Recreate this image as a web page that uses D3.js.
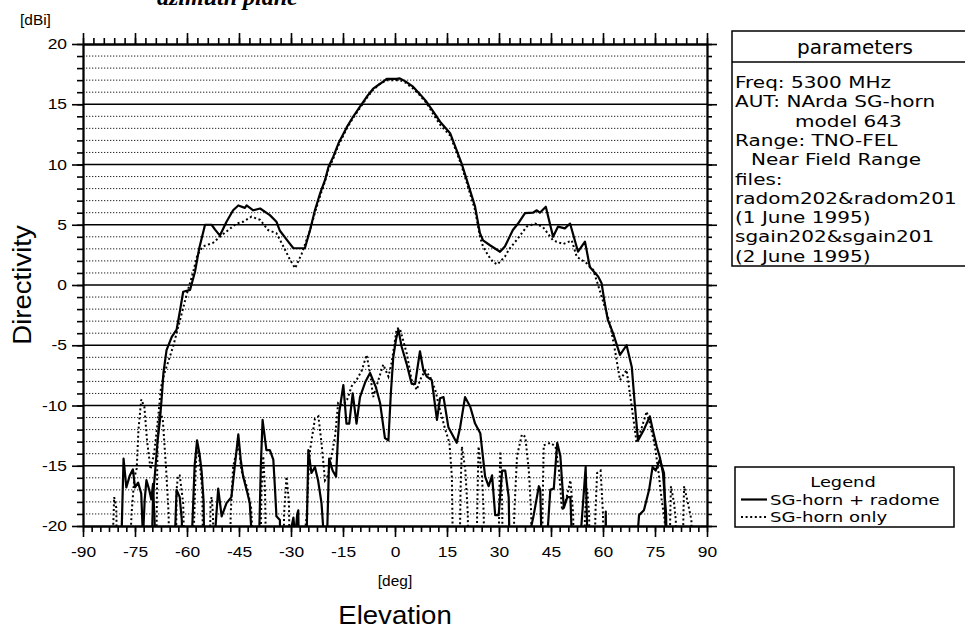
<!DOCTYPE html>
<html><head><meta charset="utf-8">
<script src="https://cdn.jsdelivr.net/npm/d3@7"></script>
<style>
html,body{margin:0;padding:0;background:#fff;}
svg{display:block;font-family:"Liberation Sans",Arial,sans-serif;}
</style></head>
<body><svg id="chart" width="965" height="629"></svg>
<script>
// ---------- data ----------
const xTicks = [-90,-75,-60,-45,-30,-15,0,15,30,45,60,75,90];
const yTicks = [-20,-15,-10,-5,0,5,10,15,20];
const seriesNames = ["SG-horn + radome","SG-horn only"];
const paramTitle = "parameters";
const paramLines = ["Freq: 5300 MHz","AUT: NArda SG-horn","model 643","Range: TNO-FEL","Near Field Range","files:","radom202&radom201","(1 June 1995)","sgain202&sgain201","(2 June 1995)"];

// SG-horn + radome, main beam [deg, dBi]
const radomeCo = [[-70.5,-26],[-69.8,-17.5],[-69.2,-15.5],[-68.5,-13],[-67.8,-11.2],[-67.2,-9],[-66.8,-7.3],[-65.9,-5.4],[-64.4,-4.3],[-63,-3.7],[-62,-2.1],[-61.1,-0.56],[-59.1,-0.4],[-57.7,1.1],[-56.5,3],[-54.8,5.0],[-52.9,5.0],[-51.9,4.6],[-50.5,4.1],[-48.6,5.25],[-46.7,6.2],[-45.2,6.6],[-43.3,6.4],[-42.8,6.6],[-40.9,6.2],[-38.9,6.35],[-36.1,5.8],[-34.2,5.25],[-33.2,4.5],[-30.8,3.6],[-29.3,3.05],[-26,3.05],[-24.5,4.56],[-23.1,6.2],[-21.6,7.6],[-20.2,8.7],[-19.2,9.8],[-17.8,10.65],[-16.3,11.76],[-13.9,13.1],[-12,14.0],[-10.1,14.8],[-8.2,15.6],[-6.3,16.3],[-4.3,16.7],[-2.4,17.1],[0.5,17.1],[1.4,17.15],[3,16.9],[5.2,16.46],[7,15.9],[9.1,15.2],[11,14.4],[13,13.55],[15.9,12.6],[17.5,11.4],[19.2,10.1],[21,8.45],[23.1,6.5],[24.5,4.3],[25.4,3.7],[27.4,3.3],[30.3,2.76],[31.7,3.2],[34,4.56],[35.5,5.1],[37.5,5.97],[39.8,6.0],[40.9,6.2],[41.8,6.0],[43.5,6.5],[45.6,4.0],[47,4.84],[49,4.7],[50.5,5.1],[52.8,2.76],[54.8,3.6],[56.2,1.5],[58.6,0.7],[59.6,0.14],[60.5,-1.5],[61.4,-2.9],[62.9,-4.0],[64.9,-5.8],[66.8,-5.0],[68.3,-6.8],[69.2,-10],[70.1,-12.9],[71.8,-12],[73.5,-10.9],[74.5,-12.2],[75.5,-13.4],[76.4,-14.3],[77.3,-15.6],[78.2,-19],[78.6,-26]];

// SG-horn only, main beam
const hornCo = [[-77,-26],[-76,-19],[-75.2,-16],[-74.5,-15.2],[-74,-12],[-73.2,-9.5],[-72.3,-10.1],[-71.5,-13],[-70.5,-15.3],[-69.5,-14],[-68.5,-11.5],[-67.5,-8.5],[-66.5,-7.3],[-65,-6],[-64,-5.1],[-62,-2.9],[-60.1,-0.8],[-58.3,1.0],[-57,2.5],[-55.4,3.2],[-52.5,3.5],[-50.5,4.0],[-48.1,4.56],[-45.7,5.1],[-43.8,5.25],[-41.4,5.67],[-38.9,5.4],[-36.6,4.56],[-34.2,4.3],[-32.2,3.2],[-30.3,2.1],[-28.8,1.4],[-26.9,2.6],[-24.5,4.56],[-23.1,6.0],[-21.6,7.4],[-20.2,8.6],[-19.2,9.6],[-17.8,10.5],[-16.3,11.6],[-13.9,13.0],[-12,13.9],[-10.1,14.7],[-8.2,15.5],[-6.3,16.2],[-4.3,16.7],[-2.4,17.0],[0.5,17.0],[1.4,17.0],[3,16.8],[5.2,16.3],[7,15.8],[9.1,15.1],[11,14.2],[13,13.3],[15.9,12.4],[17.5,11.2],[19.2,9.9],[21,8.2],[23.1,6.2],[24.5,4.0],[25.4,3.2],[27,2.4],[28.3,1.9],[29.5,1.7],[31.7,2.35],[33,3.0],[35,3.7],[38,4.84],[40.4,5.1],[42.7,4.8],[45.6,3.7],[48.5,3.4],[51,3.7],[52.4,2.35],[55.3,1.8],[57.2,1.25],[59,-0.4],[60.5,-1.8],[62,-3.2],[63.5,-5.5],[64.9,-7.9],[66.8,-7.05],[68,-9.5],[69.7,-13.1],[71,-12],[72.6,-10.5],[73.8,-11.8],[75,-13.4],[76,-15.5],[77,-18],[77.8,-19.5],[78.3,-26]];

// SG-horn + radome, low-level trace
const radomeLow = [[-80,-26],[-78.9,-21],[-78.3,-14.4],[-77.5,-16.8],[-76.5,-15.8],[-75.6,-15.3],[-75,-16.8],[-74.1,-16.4],[-73.2,-17.3],[-72.7,-21],[-72.2,-17.8],[-71.7,-16.2],[-70.9,-17],[-70.3,-17.8],[-69.8,-16.5],[-69.3,-20],[-68.8,-26],
[-63.8,-26],[-63.5,-21],[-63,-17],[-62.1,-17.6],[-61.5,-19.5],[-61.1,-26],
[-59,-26],[-58.6,-21],[-57.8,-15],[-57.1,-12.9],[-56.4,-14],[-55.8,-15.4],[-55.2,-18],[-54.9,-26],
[-52.3,-26],[-52,-21],[-51,-16.9],[-50,-19.2],[-48.6,-18.1],[-47.2,-17.6],[-46.2,-15],[-45.2,-12.4],[-44.5,-14.5],[-43.8,-15.9],[-42.8,-17],[-41.9,-18.1],[-41.3,-21],[-41.1,-26],
[-39.5,-26],[-39.2,-21],[-38.7,-15],[-38.2,-11.2],[-37.1,-13.7],[-36.1,-13.7],[-35.1,-14.5],[-34.6,-17],[-34.2,-19.2],[-33.2,-19.5],[-32.9,-26],
[-30.2,-26],[-29.8,-20],[-29.3,-19.3],[-28.8,-21],[-28.2,-19],[-27.9,-18.7],[-27.5,-26],
[-25.8,-26],[-25.5,-21],[-25,-13.7],[-24.1,-15.6],[-23.1,-15.1],[-22.2,-16.2],[-21.2,-18.1],[-20.5,-21],[-20.2,-26],[-19.6,-21],[-19,-14.4],[-18,-15.4],[-17,-15.9],[-16.1,-10.6],[-14.9,-8.3],[-14,-11.5],[-13.2,-11.5],[-12.2,-9],[-11.1,-11.5],[-10.1,-9.3],[-8.5,-8],[-7.2,-7.3],[-5.5,-8.5],[-4.3,-9.8],[-2.9,-12.7],[-1.9,-12.9],[-1.2,-9],[-0.5,-6],[0.3,-4.5],[1,-3.7],[1.9,-5.1],[3.4,-6.6],[4.8,-8.2],[5.8,-8.2],[7.2,-5.5],[8.2,-7.1],[9.2,-7.6],[10.6,-7.9],[12.1,-11.2],[13,-9.4],[14,-9.3],[15.4,-11.8],[17.8,-13.1],[18.8,-11.8],[20.2,-9.3],[21.7,-10.1],[23.1,-11.5],[24.6,-12.3],[26,-15.9],[27,-16.7],[28,-15.8],[28.9,-19.1],[29.9,-19.1],[30.9,-15.4],[31.8,-15.4],[32.8,-17.6],[33.3,-26],
[38.3,-26],[38.6,-21],[40,-19.1],[41.5,-16.7],[41.9,-17],[42.7,-26],
[43.7,-26],[43.9,-21],[44.8,-17],[45.8,-16.9],[46.8,-13.1],[47.7,-14.2],[48.7,-18.5],[49.7,-17.6],[50.6,-17.6],[51.6,-26],
[53.3,-26],[53.5,-21],[55,-15.1],[55.9,-26],
[60.6,-26],[60.8,-18.8],[61,-26],
[69.8,-26],[69.9,-21],[70.4,-19.1],[71.8,-18.7],[73.3,-17],[74.3,-15.1],[75.2,-15.4],[76.4,-14.5],[77.6,-15.6],[78.6,-26]];

// SG-horn only, low-level trace
const hornLow = [[-82,-26],[-81.4,-21],[-81,-17.6],[-80.4,-18.5],[-80,-26],
[-69,-26],[-68.5,-13],[-67.9,-10.5],[-67,-11.1],[-66,-15.4],[-65.3,-19],[-65,-26],
[-63.3,-26],[-63,-17],[-62.6,-15.8],[-62.1,-15.8],[-61.1,-18.1],[-60.5,-26],
[-58.3,-26],[-58,-20],[-57.4,-14.5],[-57,-13.3],[-56.4,-14.5],[-55.6,-17],[-55.2,-26],
[-53.6,-26],[-53.2,-18],[-52.9,-17.6],[-52.5,-19],[-52.2,-26],
[-47.7,-26],[-47.4,-19],[-46.7,-15.1],[-45.2,-13.1],[-44.3,-15.4],[-42.8,-16.7],[-41.5,-18.5],[-40.2,-26],
[-39,-26],[-38.5,-17],[-38,-14.2],[-37.5,-17],[-37,-26],
[-32.3,-26],[-32,-19],[-31.3,-15.9],[-30.6,-18],[-30.2,-26],
[-26.2,-26],[-25.8,-20],[-25.5,-19.2],[-25,-16],[-24.5,-13.7],[-23.1,-11.1],[-22.1,-10.9],[-21.2,-13.1],[-20.2,-16.2],[-19.3,-15.8],[-18.2,-14],[-17.3,-12.6],[-16.4,-9.8],[-15,-10],[-13.8,-9.5],[-12.5,-8.4],[-11.1,-7.9],[-9.6,-7.1],[-8.2,-5.8],[-7.2,-7.3],[-6.3,-9.3],[-4.8,-7.9],[-3.4,-6.6],[-1.9,-7.6],[-1,-6.5],[0.5,-3.6],[1.4,-3.6],[3.4,-5.7],[4.8,-7.9],[6.3,-8.7],[7.2,-7.9],[8.7,-7.1],[10.1,-7.6],[11.6,-8.7],[13,-10.4],[14.5,-12],[15.7,-13.1],[16.4,-15.9],[16.9,-26],
[18.5,-26],[18.9,-17],[19.3,-13.4],[20.3,-15.4],[21,-19],[21.2,-26],
[23.4,-26],[23.7,-19],[24.1,-13.4],[25.1,-15.9],[25.6,-19],[25.8,-26],
[29.8,-26],[30.1,-17],[30.4,-13.8],[30.9,-18],[31.2,-26],
[34,-26],[34.4,-19],[35.2,-14.2],[36.6,-12.4],[37.6,-12.6],[38.6,-15.4],[39.3,-19],[39.5,-26],
[42.3,-26],[42.6,-18],[42.9,-13.3],[44.8,-13.1],[46.3,-13.4],[47.3,-15.4],[48.2,-18.7],[49.2,-18],[50.6,-16.2],[51.4,-19],[51.7,-26],
[54.4,-26],[54.8,-19],[55.4,-16.9],[56,-19],[56.3,-26],
[57.4,-26],[57.8,-19],[58.3,-15.6],[59.3,-15.4],[60,-19],[60.3,-26],
[79.1,-26],[79.4,-19],[79.6,-16.7],[80.5,-18.1],[81,-19.5],[81.3,-26],
[82.9,-26],[83.2,-19],[83.4,-16.7],[84.5,-18.1],[85.5,-19.5],[85.8,-26]];

// ---------- layout ----------
const svg = d3.select("#chart");
const L = 83, R = 707, T = 44, B = 526;
const x = d3.scaleLinear().domain([-90,90]).range([L,R]);
const y = d3.scaleLinear().domain([-20,20]).range([B,T]);
const dbAll = d3.range(-20,21,1);
const SX = 1.2; // horizontal stretch of the scanned lettering

// title fragment at top (cut by the page edge in the original)
svg.append("text").attr("x",157).attr("y",5)
  .attr("font-family","Liberation Serif, serif").attr("font-style","italic").attr("font-weight","bold")
  .attr("font-size",24).text("azimuth plane");

// grid
const grid = svg.append("g");
grid.selectAll("line.minor").data(dbAll.filter(d=>d%5!==0)).join("line")
  .attr("x1",L).attr("x2",R).attr("y1",d=>y(d)).attr("y2",d=>y(d))
  .attr("stroke","#222").attr("stroke-width",1).attr("stroke-dasharray","1.3,1.7");
grid.selectAll("line.major").data(yTicks.filter(d=>d>-20&&d<20)).join("line")
  .attr("x1",L).attr("x2",R).attr("y1",d=>y(d)).attr("y2",d=>y(d))
  .attr("stroke","#000").attr("stroke-width",1.6);

// axes
function styleAxis(g){ g.select(".domain").attr("stroke","#000").attr("stroke-width",1.8);
  g.selectAll(".tick line").attr("stroke","#000").attr("stroke-width",1.6);
  g.selectAll("text").attr("font-family","Liberation Sans, Arial, sans-serif").attr("font-size",14.5).attr("fill","#000"); }
const fmt = d=>String(d);

svg.append("g").attr("transform",`translate(${L},0)`).call(d3.axisLeft(y).tickValues(dbAll).tickSize(6).tickFormat("").tickSizeOuter(0)).call(styleAxis);
svg.append("g").attr("transform",`translate(${R},0)`).call(d3.axisRight(y).tickValues(dbAll).tickSize(5).tickFormat("").tickSizeOuter(0)).call(styleAxis);
svg.append("g").attr("transform",`translate(0,${T})`).call(d3.axisTop(x).tickValues(d3.range(-90,91,3)).tickSize(6).tickFormat("").tickSizeOuter(0)).call(styleAxis);
svg.append("g").attr("transform",`translate(0,${B})`).call(d3.axisBottom(x).tickValues(d3.range(-90,91,2.5)).tickSize(6).tickFormat("").tickSizeOuter(0)).call(styleAxis);

const yAx = svg.append("g").attr("transform",`translate(${L},0)`).call(d3.axisLeft(y).tickValues(yTicks).tickSize(11).tickPadding(5).tickFormat(fmt).tickSizeOuter(0)).call(styleAxis);
yAx.selectAll("text").attr("x",-16/SX).attr("transform",`scale(${SX},1)`);
svg.append("g").attr("transform",`translate(${R},0)`).call(d3.axisRight(y).tickValues(yTicks).tickSize(10).tickFormat("").tickSizeOuter(0)).call(styleAxis);
svg.append("g").attr("transform",`translate(0,${T})`).call(d3.axisTop(x).tickValues(xTicks).tickSize(11).tickFormat("").tickSizeOuter(0)).call(styleAxis);
const xAx = svg.append("g").attr("transform",`translate(0,${B})`).call(d3.axisBottom(x).tickValues(xTicks).tickSize(11).tickPadding(10).tickFormat(fmt).tickSizeOuter(0)).call(styleAxis);
xAx.selectAll("text").attr("transform",`scale(${SX},1)`);

// data
svg.append("defs").append("clipPath").attr("id","plotclip").append("rect")
  .attr("x",L).attr("y",T).attr("width",R-L).attr("height",B-T);
const line = d3.line().x(d=>x(d[0])).y(d=>y(d[1]));
const plot = svg.append("g").attr("clip-path","url(#plotclip)");
const solidStyle = p=>p.attr("fill","none").attr("stroke","#000").attr("stroke-width",2.2).attr("stroke-linejoin","round");
const dotStyle = p=>p.attr("fill","none").attr("stroke","#000").attr("stroke-width",2).attr("stroke-dasharray","2,2.6");
plot.append("path").datum(hornLow).attr("d",line).call(dotStyle);
plot.append("path").datum(hornCo).attr("d",line).call(dotStyle);
plot.append("path").datum(radomeLow).attr("d",line).call(solidStyle);
plot.append("path").datum(radomeCo).attr("d",line).call(solidStyle);

// axis titles (scanned Helvetica lettering, slightly wide)
function wideText(px, py, size, txt, anchor, rot){
  const g = svg.append("g").attr("transform",`translate(${px},${py})` + (rot?` rotate(${rot})`:""));
  g.append("text").attr("transform",`scale(${SX*0.92},1)`).attr("text-anchor",anchor)
    .attr("font-size",size).attr("fill","#000").text(txt);
}
wideText(20, 25, 14, "[dBi]", "start");
wideText(x(0), 586, 14, "[deg]", "middle");
wideText(x(0), 624, 25, "Elevation", "middle");
wideText(31, y(0), 25, "Directivity", "middle", -90);

// parameters box (stroke-font lettering imitated with a stretched sans)
const stretch = (sel, k)=>sel.each(function(){ const w=this.getComputedTextLength(); d3.select(this).attr("textLength",w*k).attr("lengthAdjust","spacingAndGlyphs"); });
const indent = [0,0,60,0,16,0,0,0,0,0];
const pb = svg.append("g").attr("font-family","DejaVu Sans, sans-serif");
pb.append("rect").attr("x",732).attr("y",31).attr("width",240).attr("height",235).attr("fill","none").attr("stroke","#000").attr("stroke-width",1.5);
pb.append("line").attr("x1",732).attr("x2",965).attr("y1",62).attr("y2",62).attr("stroke","#000").attr("stroke-width",1.5);
pb.append("text").attr("x",855).attr("y",54).attr("text-anchor","middle").attr("font-size",20).text(paramTitle);
pb.selectAll("text.p").data(paramLines).join("text").attr("class","p")
  .attr("x",(d,i)=>735+indent[i]).attr("y",(d,i)=>88+i*19.3).attr("font-size",16.4)
  .text(d=>d).call(stretch, 1.22);

// legend
const lg = svg.append("g").attr("font-family","DejaVu Sans, sans-serif");
lg.append("rect").attr("x",735).attr("y",467).attr("width",219).attr("height",60).attr("fill","#fff").attr("stroke","#000").attr("stroke-width",1.5);
lg.append("text").attr("x",843).attr("y",487).attr("text-anchor","middle").attr("font-size",14.6).text("Legend")
  .call(stretch,1.22).attr("x",843-0.11*0).each(function(){ const w=+this.getAttribute("textLength"); d3.select(this).attr("text-anchor","start").attr("x",843-w/2); });
seriesNames.forEach((s,i)=>{
  const yy = 499.5 + i*17.5;
  lg.append("line").attr("x1",741).attr("x2",767).attr("y1",yy).attr("y2",yy)
    .attr("stroke","#000").attr("stroke-width",2.2).attr("stroke-dasharray",i===1?"2,2.6":null);
  lg.append("text").attr("x",770).attr("y",yy+5.3).attr("font-size",14.6).text(s).call(stretch,1.24);
});
</script></body></html>
